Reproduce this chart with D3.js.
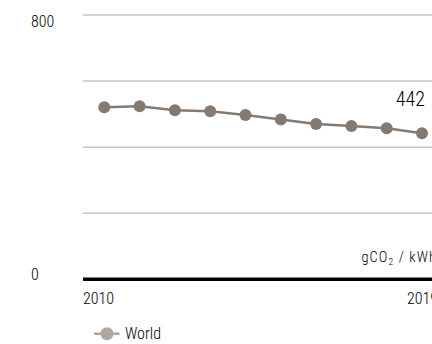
<!DOCTYPE html>
<html>
<head>
<meta charset="utf-8">
<script src="https://cdn.jsdelivr.net/npm/d3@7"></script>
<style>
  html, body { margin: 0; padding: 0; background: #fff; }
  svg { display: block; }
  text { font-family: "Liberation Sans Narrow", "Roboto Condensed", "Arial Narrow", "Liberation Sans", sans-serif; fill: #000; font-weight: 300; }
</style>
</head>
<body>
<svg id="chart" width="432" height="344"></svg>
<script>
// Carbon intensity of electricity generation, world average
const years = [2010, 2011, 2012, 2013, 2014, 2015, 2016, 2017, 2018, 2019];
const world = [521, 524, 512, 509, 497, 484, 470, 464, 457, 442];
const yTicks = [0, 800];
const gridValues = [200, 400, 600, 800];
const seriesName = "World";
const unitLabel = "gCO";

const svg = d3.select("#chart");

const x = d3.scalePoint().domain(years).range([104.3, 422]);
const y = d3.scaleLinear().domain([0, 800]).range([279.3, 15]);

const plotLeft = 83, plotRight = 445;

// horizontal gridlines
svg.append("g")
  .selectAll("line")
  .data(gridValues)
  .join("line")
  .attr("x1", plotLeft).attr("x2", plotRight)
  .attr("y1", d => y(d)).attr("y2", d => y(d))
  .attr("stroke", "#c6c6c6")
  .attr("stroke-width", 1.5);

// baseline
svg.append("line")
  .attr("x1", plotLeft).attr("x2", plotRight)
  .attr("y1", y(0)).attr("y2", y(0))
  .attr("stroke", "#000")
  .attr("stroke-width", 3.5);

// y tick labels
svg.append("g")
  .selectAll("text")
  .data(yTicks)
  .join("text")
  .attr("x", 31)
  .attr("y", d => d === 0 ? y(d) + 1 : y(d) + 12.3)
  .attr("font-size", 16)
  .text(d => d);

// x labels: first and last year
const xAxisLabels = [years[0], years[years.length - 1]];
svg.append("g")
  .selectAll("text")
  .data(xAxisLabels)
  .join("text")
  .attr("x", (d, i) => i === 0 ? plotLeft : x(d) + 16)
  .attr("y", 304.3)
  .attr("text-anchor", (d, i) => i === 0 ? "start" : "end")
  .attr("font-size", 16)
  .text(d => d);

// unit label
const unit = svg.append("text")
  .attr("x", 437)
  .attr("y", 261.5)
  .attr("text-anchor", "end")
  .attr("font-size", 14.5)
  .attr("letter-spacing", 1.1);
unit.append("tspan").text(unitLabel);
unit.append("tspan").attr("font-size", 9.5).attr("dy", 3).text("2");
unit.append("tspan").attr("dy", -3).text(" / kWh");

// series line
const line = d3.line().x((d, i) => x(years[i])).y(d => y(d));
svg.append("path")
  .datum(world)
  .attr("d", line)
  .attr("fill", "none")
  .attr("stroke", "#857a71")
  .attr("stroke-width", 2.5);

svg.append("g")
  .selectAll("circle")
  .data(world)
  .join("circle")
  .attr("cx", (d, i) => x(years[i]))
  .attr("cy", d => y(d))
  .attr("r", 6)
  .attr("fill", "#857a71");

// value label on last point
const last = world[world.length - 1];
svg.append("text")
  .attr("x", x(years[years.length - 1]) + 3)
  .attr("y", y(last) - 27)
  .attr("text-anchor", "end")
  .attr("font-size", 20)
  .text(last);

// legend
const lg = svg.append("g");
lg.append("line")
  .attr("x1", 94).attr("x2", 119.5)
  .attr("y1", 333.7).attr("y2", 333.7)
  .attr("stroke", "#b2a59c")
  .attr("stroke-width", 2.5);
lg.append("circle")
  .attr("cx", 107).attr("cy", 333.7).attr("r", 6.5)
  .attr("fill", "#b2a59c");
lg.append("text")
  .attr("x", 125).attr("y", 338.7)
  .attr("font-size", 16)
  .text(seriesName);
</script>
</body>
</html>
